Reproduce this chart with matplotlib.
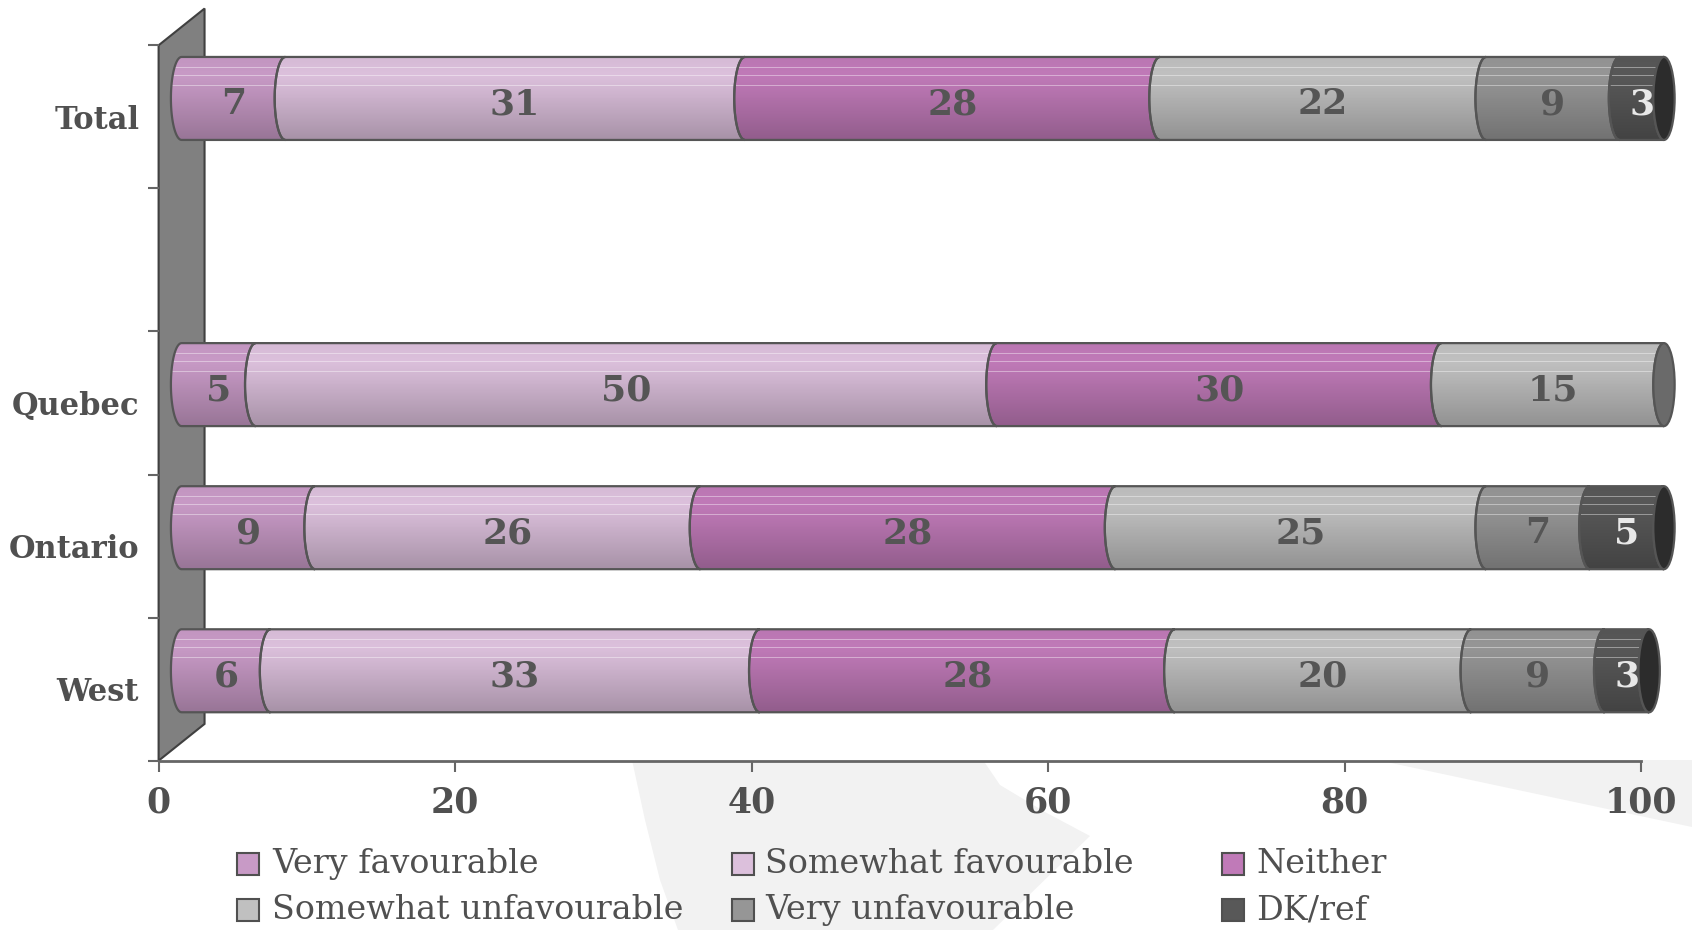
import numpy as np
import matplotlib
matplotlib.use('Agg')
import matplotlib.pyplot as plt
from matplotlib.patches import Polygon, Ellipse, Rectangle
from matplotlib.colors import to_rgb

# data (bottom to top: West, Ontario, Quebec, Total)
regions = ['West', 'Ontario', 'Quebec', 'Total']
region_pos = [0.5, 1.5, 2.5, 4.5]
series = ['Very favourable', 'Somewhat favourable', 'Neither',
          'Somewhat unfavourable', 'Very unfavourable', 'DK/ref']
very_favourable = [6, 9, 5, 7]
somewhat_favourable = [33, 26, 50, 31]
neither = [28, 28, 30, 28]
somewhat_unfavourable = [20, 25, 15, 22]
very_unfavourable = [9, 7, 0, 9]
dk_ref = [3, 5, 0, 3]
x_ticks = [0, 20, 40, 60, 80, 100]

values = [very_favourable, somewhat_favourable, neither,
          somewhat_unfavourable, very_unfavourable, dk_ref]
colors = ['#c89ac6', '#dcc0dc', '#c07ab8', '#c0c0c0', '#969696', '#585858']
label_colors = ['#555555'] * 5 + ['#e8e8e8']

W, H = 1692, 930
fig = plt.figure(figsize=(W / 100, H / 100), dpi=100)
fig.patch.set_facecolor('white')


# faint background swoosh (pixel coords from top-left)
def px(pts):
    return [(x / W, 1 - y / H) for x, y in pts]


swoosh1 = px([(632, 760), (983, 760), (1000, 785), (1045, 812), (1090, 836),
              (993, 930), (678, 930), (660, 880), (645, 820)])
swoosh2 = px([(1377, 760), (1692, 760), (1692, 827)])
for pts in (swoosh1, swoosh2):
    fig.patches.append(Polygon(pts, closed=True, transform=fig.transFigure,
                               facecolor='#f2f2f2', edgecolor='none', zorder=-5))

ax = fig.add_axes([158.6 / W, (H - 760.7) / H, (1641 - 158.6) / W, (760.7 - 45.3) / H])
ax.set_facecolor('white')
ax.set_zorder(1)

# 3d wall on the left
wall_dx, wall_dy = 3.1, 0.257
ax.add_patch(Polygon([(0, 0), (0, 5), (wall_dx, 5 + wall_dy), (wall_dx, wall_dy)],
                     closed=True, facecolor='#808080', edgecolor='#404040',
                     lw=1.5, clip_on=False, zorder=1))

bar_dx, bar_dy = wall_dx / 2, wall_dy / 2
bar_h = 0.58
rx = 0.72


def seg_points(x0, x1, yc, h):
    t = np.linspace(0, np.pi, 40)
    right = np.column_stack([x1 - rx * np.sin(t), yc + h / 2 * np.cos(t)])
    left = np.column_stack([x0 - rx * np.sin(t[::-1]), yc + h / 2 * np.cos(t[::-1])])
    return np.vstack([right, left])


def gradient(color, n=84):
    base = np.array(to_rgb(color))
    t = np.linspace(0, 1, n)
    f = np.where(t < 0.2, 0.97 + 0.15 * t, 1.0 - 0.24 * ((t - 0.2) / 0.8) ** 1.1)
    g = np.clip(base[None, :] * f[:, None], 0, 1)
    for frac in (0.12, 0.22, 0.34):
        i = int(frac * n)
        g[i] = g[i] * 0.6 + 0.4
    return g[:, None, :]


for r, y in enumerate(region_pos):
    yc = y + bar_dy
    left = 0
    last = max(i for i in range(len(values)) if values[i][r] > 0)
    for s, vals in enumerate(values):
        v = vals[r]
        if v <= 0:
            continue
        x0 = left + bar_dx
        x1 = left + v + bar_dx
        poly = Polygon(seg_points(x0, x1, yc, bar_h), closed=True,
                       facecolor='none', edgecolor='#555555', lw=1.6, zorder=4,
                       clip_on=False)
        ax.add_patch(poly)
        im = ax.imshow(gradient(colors[s]), extent=(x0 - rx, x1 + rx, yc - bar_h / 2, yc + bar_h / 2),
                       origin='upper', aspect='auto', interpolation='nearest', zorder=3)
        im.set_clip_path(poly)
        im.set_clip_box(fig.bbox)
        if s == last:
            cap = np.array(to_rgb(colors[s])) * 0.55
            if s == len(values) - 1:
                cap = np.array(to_rgb(colors[s])) * 0.5
            ax.add_patch(Ellipse((x1, yc), 2 * rx, bar_h, facecolor=cap,
                                 edgecolor='#555555', lw=1.6, zorder=5, clip_on=False))
        ax.text(left + v / 2 + bar_dx, yc - 0.04, str(v), ha='center', va='center',
                fontsize=26, fontweight='bold', family='DejaVu Serif',
                color=label_colors[s], zorder=6)
        left += v

ax.set_xlim(0, 100)
ax.set_ylim(0, 5)

for side in ('top', 'right', 'left'):
    ax.spines[side].set_visible(False)
ax.spines['bottom'].set_color('#666666')
ax.spines['bottom'].set_linewidth(2)

ax.set_xticks(x_ticks)
ax.set_xticklabels([str(t) for t in x_ticks], fontsize=25, fontweight='bold',
                   family='DejaVu Serif', color='#505050')
ax.tick_params(axis='x', length=8, width=1.5, color='#666666', pad=10)

ax.set_yticks(range(6))
ax.set_yticklabels([])
ax.set_yticks(region_pos, minor=True)
ax.set_yticklabels(regions, minor=True, fontsize=22, fontweight='bold',
                   family='DejaVu Serif', color='#505050')
ax.tick_params(axis='y', which='major', length=8, width=1.5, color='#666666')
ax.tick_params(axis='y', which='minor', length=0, pad=14)

# legend drawn by hand to match the layout
sw_x = [237, 732, 1222]
tx_x = [272, 765, 1256]
row_y = [864, 910]
for i, name in enumerate(series):
    row, col = divmod(i, 3)
    x, y = sw_x[col], row_y[row]
    fig.patches.append(Rectangle((x / W, 1 - (y + 11) / H), 22 / W, 22 / H,
                                 transform=fig.transFigure, facecolor=colors[i],
                                 edgecolor='#505050', lw=1.5, zorder=2))
    fig.text(tx_x[col] / W, 1 - y / H, name, ha='left', va='center',
             fontsize=24, family='DejaVu Serif', color='#505050')

fig.savefig('out.png', dpi=100)
